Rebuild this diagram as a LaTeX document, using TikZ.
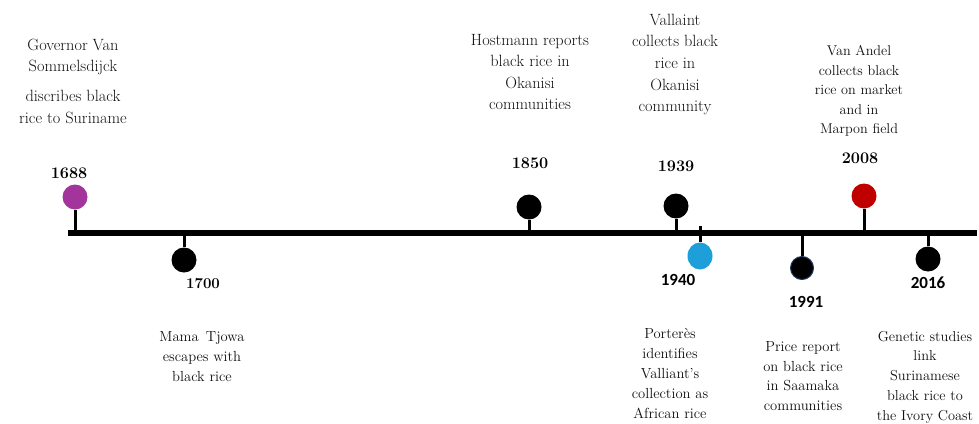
\documentclass[tikz,border=0pt]{standalone}
\usepackage{fontspec}
\usetikzlibrary{shapes.geometric}
\newfontfamily\yearsans{Carlito}
\definecolor{txtgray}{HTML}{111111}
\definecolor{dotpurple}{HTML}{A2349C}
\definecolor{dotblue}{HTML}{1E9FDA}
\definecolor{dotred}{HTML}{C00000}
\definecolor{dotnavy}{HTML}{1F3864}
\begin{document}
\begin{tikzpicture}[x=1pt,y=-1pt,
  dot/.style={circle,minimum size=25pt,inner sep=0pt,fill=black},
  stem/.style={line width=3pt},
  axis/.style={line width=6pt},
  bigtxt/.style={align=center,text=txtgray,font=\rmfamily\fontsize{16.3}{21.3}\selectfont},
  smalltxt/.style={align=center,text=txtgray,font=\rmfamily\fontsize{14.6}{20}\selectfont},
  yserif/.style={font=\rmfamily\fontsize{16.2}{20}\selectfont\bfseries,text=black},
  ysans/.style={font=\yearsans\fontsize{17}{20}\selectfont\bfseries,text=black}]
\useasboundingbox (0,0) rectangle (979,423);
% main line
\coordinate (L) at (68,233);
\coordinate (R) at (977,233);
\draw[axis] (L) -- (R);
% 1688
\node[dot,fill=dotpurple] (d1688) at (75,197) {};
\coordinate (a1688) at (75,233);
\draw[stem] (d1688) -- (a1688);
\node[yserif] (y1688) at (69,173) {1688};
\node[bigtxt] (t1688) at (73,81) {Governor Van\\Sommelsdijck\\[9pt]discribes black\\rice to Suriname};
% 1700
\node[dot] (d1700) at (184,260) {};
\coordinate (a1700) at (184,233);
\draw[stem] (a1700) -- (d1700);
\node[yserif,font=\rmfamily\fontsize{15}{20}\selectfont\bfseries] (y1700) at (203,284) {1700};
\node[smalltxt] (t1700) at (202,357) {Mama\, Tjowa\\escapes with\\black rice};
% 1850
\node[dot] (d1850) at (529,207) {};
\coordinate (a1850) at (529,233);
\draw[stem] (d1850) -- (a1850);
\node[yserif] (y1850) at (530,163) {1850};
\node[bigtxt] (t1850) at (530,72) {Hostmann reports\\black rice in\\Okanisi\\communities};
% 1939
\node[dot] (d1939) at (676,206) {};
\coordinate (a1939) at (676,233);
\draw[stem] (d1939) -- (a1939);
\node[yserif] (y1939) at (676,166) {1939};
\node[bigtxt,font=\rmfamily\fontsize{16.3}{21.6}\selectfont] (t1939) at (675,64.5) {Vallaint\\collects black\\rice in\\Okanisi\\community};
% 1940
\node[ellipse,fill=dotblue,inner sep=0pt,minimum width=25pt,minimum height=27pt] (d1940) at (700,256) {};
\coordinate (a1940) at (700,226);
\draw[stem] (a1940) -- (d1940);
\node[ysans] (y1940) at (678,280) {1940};
\node[smalltxt] (t1940) at (670,373) {Porter\`es\\identifies\\Valliant's\\collection as\\African rice};
% 1991
\node[dot,draw=dotnavy,line width=1pt,minimum size=23pt] (d1991) at (802,268) {};
\coordinate (a1991) at (802,233);
\draw[stem] (a1991) -- (d1991);
\node[ysans] (y1991) at (806,302) {1991};
\node[smalltxt,font=\rmfamily\fontsize{14.6}{19.4}\selectfont] (t1991) at (803,376) {Price report\\on black rice\\in Saamaka\\communities};
% 2008
\node[dot,fill=dotred] (d2008) at (864,196) {};
\coordinate (a2008) at (864,233);
\draw[stem] (d2008) -- (a2008);
\node[yserif] (y2008) at (860,158) {2008};
\node[smalltxt,font=\rmfamily\fontsize{14.2}{19.5}\selectfont] (t2008) at (859,91) {Van Andel\\collects black\\rice on market\\and in\\Marpon field};
% 2016
\node[dot] (d2016) at (928,259) {};
\coordinate (a2016) at (928,233);
\draw[stem] (a2016) -- (d2016);
\node[ysans] (y2016) at (928,283) {2016};
\node[smalltxt,font=\rmfamily\fontsize{14.4}{19.8}\selectfont] (t2016) at (925,377) {Genetic studies\\link\\Surinamese\\black rice to\\the Ivory Coast};
\end{tikzpicture}
\end{document}
